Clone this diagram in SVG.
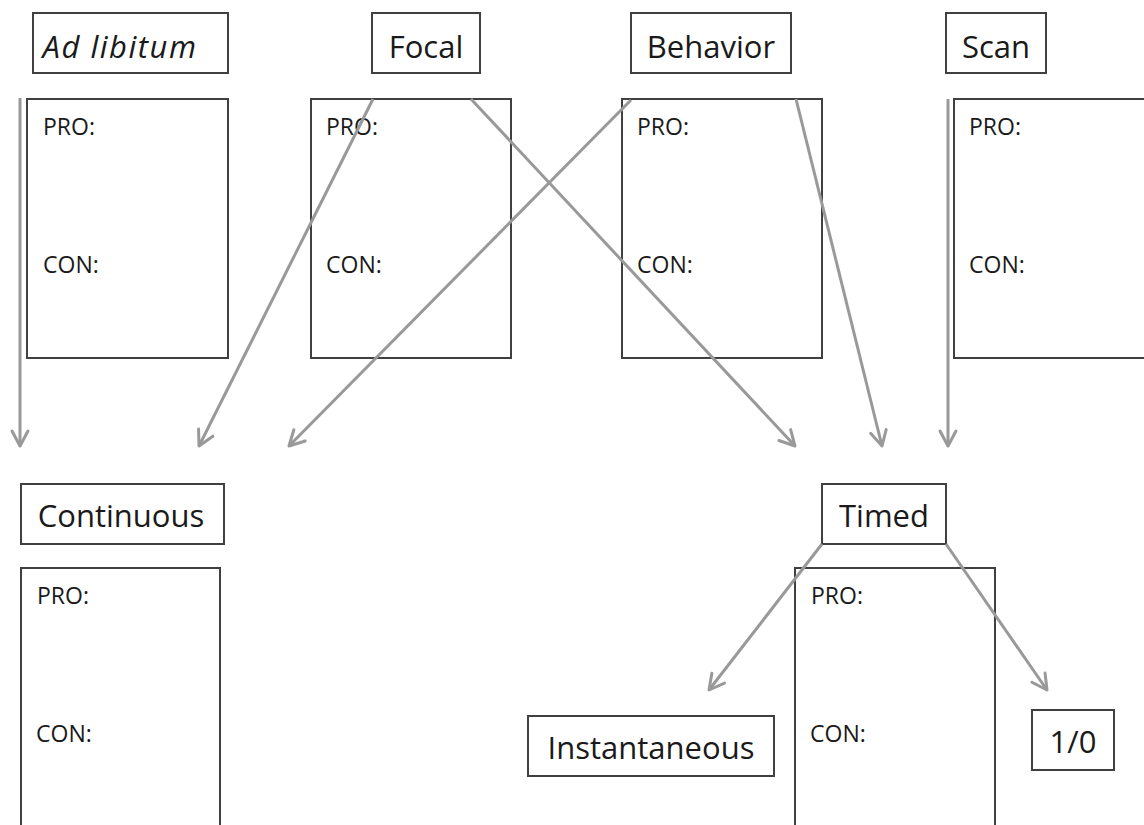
<svg xmlns="http://www.w3.org/2000/svg" width="1144" height="825" viewBox="0 0 1144 825">
<defs>
<style>
.box{fill:#fff;stroke:#404040;stroke-width:2}
.lbl{font-family:"Open Sans","Noto Sans",sans-serif;font-size:31px;fill:#1a1a1a;text-anchor:middle}
.it{font-style:italic;letter-spacing:1.5px}
.pc{font-family:"Open Sans","Noto Sans",sans-serif;font-size:23px;fill:#1a1a1a}
.arr{fill:none;stroke:#999;stroke-width:3;marker-end:url(#ah)}
</style>
<marker id="ah" markerUnits="userSpaceOnUse" viewBox="-18 -11 21 22" refX="0" refY="0" markerWidth="21" markerHeight="22" orient="auto">
<path d="M-15,-8 L0,0 L-15,8" fill="none" stroke="#999" stroke-width="3" stroke-linejoin="round" stroke-linecap="round"/>
</marker>
</defs>
<rect width="1144" height="825" fill="#fff"/>

<g id="adlib-label"><rect class="box" x="33" y="13" width="195" height="60"/><text class="lbl it" x="120" y="58">Ad libitum</text></g>
<g id="focal-label"><rect class="box" x="372" y="13" width="108" height="60"/><text class="lbl" x="426" y="58">Focal</text></g>
<g id="behavior-label"><rect class="box" x="631" y="13" width="160" height="60"/><text class="lbl" x="711" y="58">Behavior</text></g>
<g id="scan-label"><rect class="box" x="946" y="13" width="100" height="60"/><text class="lbl" x="996" y="58">Scan</text></g>

<g id="adlib-procon"><rect class="box" x="27" y="99" width="201" height="259"/><text class="pc" x="43" y="135">PRO:</text><text class="pc" x="43" y="273">CON:</text></g>
<g id="focal-procon"><rect class="box" x="311" y="99" width="200" height="259"/><text class="pc" x="326" y="135">PRO:</text><text class="pc" x="326" y="273">CON:</text></g>
<g id="behavior-procon"><rect class="box" x="622" y="99" width="200" height="259"/><text class="pc" x="637" y="135">PRO:</text><text class="pc" x="637" y="273">CON:</text></g>
<g id="scan-procon"><rect class="box" x="954" y="99" width="200" height="259"/><text class="pc" x="969" y="135">PRO:</text><text class="pc" x="969" y="273">CON:</text></g>

<g id="continuous-label"><rect class="box" x="21" y="484" width="203" height="60"/><text class="lbl" x="121" y="527">Continuous</text></g>
<g id="continuous-procon"><rect class="box" x="21" y="568" width="199" height="262"/><text class="pc" x="37" y="604">PRO:</text><text class="pc" x="36" y="742">CON:</text></g>

<g id="timed-label"><rect class="box" x="822" y="484" width="124" height="60"/><text class="lbl" x="884" y="527">Timed</text></g>
<g id="timed-procon"><rect class="box" x="795" y="568" width="200" height="262"/><text class="pc" x="811" y="604">PRO:</text><text class="pc" x="810" y="742">CON:</text></g>

<g id="instantaneous"><rect class="box" x="528" y="716" width="246" height="60"/><text class="lbl" x="651" y="759">Instantaneous</text></g>
<g id="onezero"><rect class="box" x="1032" y="710" width="82" height="60"/><text class="lbl" x="1073" y="753">1/0</text></g>

<g id="connectors">
<line class="arr" x1="20" y1="98" x2="20" y2="446"/>
<line class="arr" x1="373" y1="99" x2="199" y2="446"/>
<line class="arr" x1="471" y1="99" x2="795" y2="446"/>
<line class="arr" x1="631" y1="100" x2="289" y2="446"/>
<line class="arr" x1="796" y1="99" x2="882" y2="446"/>
<line class="arr" x1="948" y1="99" x2="948" y2="446"/>
<line class="arr" x1="822" y1="544" x2="709" y2="690"/>
<line class="arr" x1="946" y1="544" x2="1047" y2="690"/>
</g>
</svg>
